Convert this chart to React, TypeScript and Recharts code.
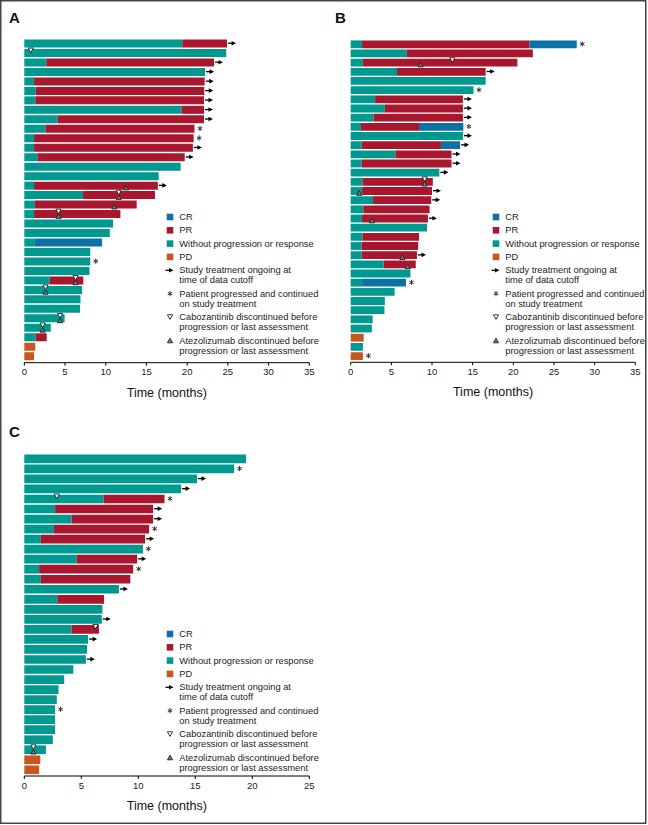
import { ComposedChart, Bar, Scatter, XAxis, YAxis } from 'recharts';

const TEAL = '#00998F';
const RED = '#A8172D';
const BLUE = '#0A72A6';
const ORANGE = '#C9561E';
const FONT = '"Liberation Sans", Arial, sans-serif';

// Panel A: end of each response segment (months), row by row from the top
const A_TEAL = [19.4, 24.8, 2.7, 22.2, 1.2, 1.4, 1.35, 19.3, 4.1, 2.6, 1.2, 1.2, 1.6, 19.2, 16.5, 1.2, 7.2, 1.3, 1.2, 10.9, 10.5, 1.3, 8.1, 8.1, 8.0, 3.1, 7.1, 6.9, 6.85, 4.95, 3.25, 1.4, 0, 0];
const A_PR = [24.9, null, 23.3, null, 22.15, 22.1, 22.07, 22.07, 22.07, 20.9, 20.8, 20.7, 19.7, null, null, 16.4, 16.05, 13.8, 11.8, null, null, null, null, null, null, 7.25, null, null, null, null, null, 2.75, null, null];
const A_CR = [null, null, null, null, null, null, null, null, null, null, null, null, null, null, null, null, null, null, null, null, null, 9.55, null, null, null, null, null, null, null, null, null, null, null, null];
const A_PD = [null, null, null, null, null, null, null, null, null, null, null, null, null, null, null, null, null, null, null, null, null, null, null, null, null, null, null, null, null, null, null, null, 1.35, 1.2];
const A_ONGOING = [1, 3, 4, 5, 6, 7, 8, 9, 12, 13, 16];
const A_PROGRESSED = [10, 11, 24];
const A_CABO_ROWS = [2, 17, 19, 26, 27, 30, 31];
const A_CABO_AT = [0.8, 11.6, 4.2, 6.3, 2.6, 4.4, 2.25];
const A_ATEZO_ROWS = [16, 17, 18, 19, 26, 27, 30, 31];
const A_ATEZO_AT = [12.5, 11.6, 11.05, 4.2, 6.3, 2.6, 4.4, 2.25];

// Panel B
const B_TEAL = [1.4, 6.9, 1.5, 5.7, 16.6, 15.1, 3.0, 4.2, 2.8, 1.27, 13.8, 1.35, 5.5, 1.35, 10.9, 1.45, 1.4, 2.75, 1.55, 1.4, 9.4, 1.45, 1.35, 1.35, 4.05, 7.35, 1.4, 5.4, 4.2, 4.15, 2.7, 2.6, 0, 1.5, 0];
const B_PR = [22.0, 22.4, 20.5, 16.6, null, null, 13.8, 13.8, 13.8, 8.4, null, 11.1, 12.4, 12.4, null, 10.1, 10.0, 9.9, 9.7, 9.5, null, 8.4, 8.3, 8.15, 8.0, null, null, null, null, null, null, null, null, null, null];
const B_CR = [27.8, null, null, null, null, null, null, null, null, 13.85, null, 13.45, null, null, null, null, null, null, null, null, null, null, null, null, null, null, 6.8, null, null, null, null, null, null, null, null];
const B_PD = [null, null, null, null, null, null, null, null, null, null, null, null, null, null, null, null, null, null, null, null, null, null, null, null, null, null, null, null, null, null, null, null, 1.6, null, 1.5];
const B_ONGOING = [4, 7, 8, 9, 11, 12, 13, 14, 15, 17, 18, 20, 24];
const B_PROGRESSED = [1, 6, 10, 27, 35];
const B_CABO_ROWS = [3, 16];
const B_CABO_AT = [12.5, 9.1];
const B_ATEZO_ROWS = [3, 16, 17, 20, 24, 25];
const B_ATEZO_AT = [8.6, 9.1, 1.05, 2.6, 6.35, 7.0];

// Panel C
const C_TEAL = [19.45, 18.4, 15.15, 13.75, 6.95, 2.7, 4.15, 2.6, 1.45, 10.4, 4.6, 1.3, 1.45, 8.3, 2.9, 6.85, 6.8, 4.15, 5.6, 5.5, 5.4, 4.3, 3.5, 3.0, 2.85, 2.7, 2.7, 2.7, 2.5, 1.9, 0, 0];
const C_PR = [null, null, null, null, 12.3, 11.3, 11.3, 10.95, 10.6, null, 9.9, 9.55, 9.3, null, 7.0, null, null, 6.55, null, null, null, null, null, null, null, null, null, null, null, null, null, null];
const C_CR: (number | null)[] = [];
const C_PD = [null, null, null, null, null, null, null, null, null, null, null, null, null, null, null, null, null, null, null, null, null, null, null, null, null, null, null, null, null, null, 1.4, 1.3];
const C_ONGOING = [3, 4, 6, 7, 9, 11, 14, 17, 19, 21];
const C_PROGRESSED = [2, 5, 8, 10, 12, 26];
const C_CABO_ROWS = [5, 18, 30];
const C_CABO_AT = [2.85, 6.25, 0.8];
const C_ATEZO_ROWS = [30];
const C_ATEZO_AT = [0.8];

const TICKS_35 = [0, 5, 10, 15, 20, 25, 30, 35];
const TICKS_25 = [0, 5, 10, 15, 20, 25];

function buildRows(
  teal: number[], pr: (number | null)[], cr: (number | null)[], pd: (number | null)[],
  ongoing: number[], progressed: number[],
  caboRows: number[], caboAt: number[], atezoRows: number[], atezoAt: number[]
) {
  return teal.map((t, i) => {
    const row = i + 1;
    const p = pr[i] ?? null;
    const c = cr[i] ?? null;
    const d = pd[i] ?? 0;
    const end = Math.max(t, p ?? 0, c ?? 0, d);
    const ci = caboRows.indexOf(row);
    const ai = atezoRows.indexOf(row);
    return {
      id: 'r' + row,
      teal: t,
      pr: p != null ? p - t : 0,
      cr: c != null ? c - (p ?? t) : 0,
      pd: d,
      arrow: ongoing.includes(row) ? end : null,
      star: progressed.includes(row) ? end : null,
      cabo: ci >= 0 ? caboAt[ci] : null,
      atezo: ai >= 0 ? atezoAt[ai] : null,
    };
  });
}

const dataA = buildRows(A_TEAL, A_PR, A_CR, A_PD, A_ONGOING, A_PROGRESSED, A_CABO_ROWS, A_CABO_AT, A_ATEZO_ROWS, A_ATEZO_AT);
const dataB = buildRows(B_TEAL, B_PR, B_CR, B_PD, B_ONGOING, B_PROGRESSED, B_CABO_ROWS, B_CABO_AT, B_ATEZO_ROWS, B_ATEZO_AT);
const dataC = buildRows(C_TEAL, C_PR, C_CR, C_PD, C_ONGOING, C_PROGRESSED, C_CABO_ROWS, C_CABO_AT, C_ATEZO_ROWS, C_ATEZO_AT);

const ok = (props: any, key: string) => {
  const { cx, cy, payload } = props;
  if (cx == null || cy == null || !isFinite(cx) || !isFinite(cy)) return false;
  if (payload && payload[key] == null) return false;
  return true;
};

const arrowPath = (x: number, y: number) => (
  <g>
    <line x1={x + 1} y1={y} x2={x + 6} y2={y} stroke="#000" strokeWidth={1.3} />
    <path d={`M${x + 9},${y} L${x + 4.5},${y - 2.3} L${x + 4.5},${y + 2.3} Z`} fill="#000" />
  </g>
);
const starPath = (x: number, y: number) => (
  <g stroke="#333" strokeWidth={1}>
    <line x1={x} y1={y - 2.6} x2={x} y2={y + 2.6} />
    <line x1={x - 2.25} y1={y - 1.3} x2={x + 2.25} y2={y + 1.3} />
    <line x1={x - 2.25} y1={y + 1.3} x2={x + 2.25} y2={y - 1.3} />
  </g>
);
const downTri = (x: number, y: number) => (
  <path d={`M${x - 2.6},${y - 4.6} L${x + 2.6},${y - 4.6} L${x},${y} Z`} fill="#fff" stroke="#222" strokeWidth={0.9} />
);
const upTri = (x: number, y: number) => (
  <path d={`M${x - 2.6},${y + 4.6} L${x + 2.6},${y + 4.6} L${x},${y} Z`} fill="#777" stroke="#222" strokeWidth={0.9} />
);

const ArrowMark = (props: any) => (ok(props, 'arrow') ? arrowPath(props.cx, props.cy) : <g />);
const StarMark = (props: any) => (ok(props, 'star') ? starPath(props.cx + 5.5, props.cy) : <g />);
const CaboMark = (props: any) => (ok(props, 'cabo') ? downTri(props.cx, props.cy) : <g />);
const AtezoMark = (props: any) => (ok(props, 'atezo') ? upTri(props.cx, props.cy) : <g />);

function Swimmer({ data, width, height, margin, barSize, max, ticks, padBottom }: any) {
  return (
    <ComposedChart layout="vertical" width={width} height={height} data={data} margin={margin}>
      <XAxis
        type="number"
        domain={[0, max]}
        ticks={ticks}
        height={30}
        tickSize={3}
        tickMargin={3}
        axisLine={{ stroke: '#000', strokeWidth: 1 }}
        tickLine={{ stroke: '#000' }}
        tick={{ fontSize: 9.5, fill: '#222', fontFamily: FONT }}
        label={{ value: 'Time (months)', position: 'bottom', offset: -5, fontSize: 12.5, fill: '#111', fontFamily: FONT }}
      />
      <YAxis
        type="category"
        dataKey="id"
        width={0}
        tick={false}
        tickLine={false}
        axisLine={{ stroke: '#000', strokeWidth: 1.5 }}
        padding={{ top: 0, bottom: padBottom }}
      />
      <Bar dataKey="teal" stackId="s" fill={TEAL} barSize={barSize} isAnimationActive={false} />
      <Bar dataKey="pr" stackId="s" fill={RED} barSize={barSize} isAnimationActive={false} />
      <Bar dataKey="cr" stackId="s" fill={BLUE} barSize={barSize} isAnimationActive={false} />
      <Bar dataKey="pd" stackId="s" fill={ORANGE} barSize={barSize} isAnimationActive={false} />
      <Scatter dataKey="arrow" shape={ArrowMark} isAnimationActive={false} />
      <Scatter dataKey="star" shape={StarMark} isAnimationActive={false} />
      <Scatter dataKey="cabo" shape={CaboMark} isAnimationActive={false} />
      <Scatter dataKey="atezo" shape={AtezoMark} isAnimationActive={false} />
    </ComposedChart>
  );
}

const LEGEND_SQUARES = [
  { label: 'CR', color: BLUE },
  { label: 'PR', color: RED },
  { label: 'Without progression or response', color: TEAL },
  { label: 'PD', color: ORANGE },
];
const LEGEND_MARKS = [
  { kind: 'arrow', lines: ['Study treatment ongoing at', 'time of data cutoff'] },
  { kind: 'star', lines: ['Patient progressed and continued', 'on study treatment'] },
  { kind: 'cabo', lines: ['Cabozantinib discontinued before', 'progression or last assessment'] },
  { kind: 'atezo', lines: ['Atezolizumab discontinued before', 'progression or last assessment'] },
];

function LegendBox({ x, y }: { x: number; y: number }) {
  const sx = x + 7;
  const tx = x + 16.3;
  return (
    <g fontFamily={FONT} fontSize={9.3} fill="#222">
      {LEGEND_SQUARES.map((s, i) => (
        <g key={s.label}>
          <rect x={sx - 3.3} y={y + i * 13.3 - 3.3} width={6.6} height={6.6} fill={s.color} />
          <text x={tx} y={y + i * 13.3} dominantBaseline="central">{s.label}</text>
        </g>
      ))}
      {LEGEND_MARKS.map((m, i) => {
        const cy = y + 53.3 + i * 23.4;
        let sym;
        if (m.kind === 'arrow') sym = arrowPath(sx - 5.5, cy);
        else if (m.kind === 'star') sym = starPath(sx, cy);
        else if (m.kind === 'cabo') sym = downTri(sx, cy + 2.3);
        else sym = upTri(sx, cy - 2.3);
        return (
          <g key={m.kind}>
            {sym}
            {m.lines.map((ln, j) => (
              <text key={j} x={tx} y={cy + j * 10} dominantBaseline="central">{ln}</text>
            ))}
          </g>
        );
      })}
    </g>
  );
}

export default function App() {
  return (
    <div style={{ position: 'absolute', left: 0, top: 0, width: 648, height: 825, background: '#fff' }}>
      <div style={{ position: 'absolute', left: 0, top: 0 }}>
        <Swimmer data={dataA} width={330} height={410} margin={{ top: 38.5, right: 20.7, bottom: 17.3, left: 24.3 }}
          barSize={8} max={35} ticks={TICKS_35} padBottom={2} />
      </div>
      <div style={{ position: 'absolute', left: 330, top: 0 }}>
        <Swimmer data={dataB} width={318} height={410} margin={{ top: 39.4, right: 12.7, bottom: 17.7, left: 20.7 }}
          barSize={7.8} max={35} ticks={TICKS_35} padBottom={2} />
      </div>
      <div style={{ position: 'absolute', left: 0, top: 420 }}>
        <Swimmer data={dataC} width={330} height={405} margin={{ top: 33.5, right: 20.7, bottom: 19, left: 24.3 }}
          barSize={8.7} max={25} ticks={TICKS_25} padBottom={1.5} />
      </div>
      <svg width={648} height={825} style={{ position: 'absolute', left: 0, top: 0, pointerEvents: 'none' }}>
        <rect x={0.75} y={0.75} width={645} height={822.5} fill="none" stroke="#444" strokeWidth={1.5} />
        <g fontFamily={FONT} fontWeight="bold" fontSize={15} fill="#111">
          <text x={9} y={23}>A</text>
          <text x={335} y={23}>B</text>
          <text x={9} y={437}>C</text>
        </g>
        <LegendBox x={163} y={217} />
        <LegendBox x={489} y={217} />
        <LegendBox x={163} y={634} />
      </svg>
    </div>
  );
}
